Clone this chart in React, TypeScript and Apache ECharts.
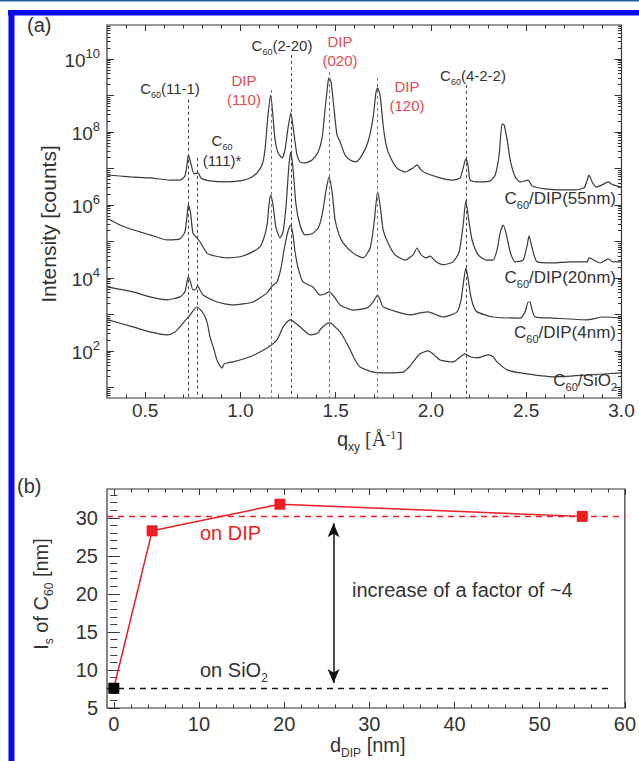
import React, { useEffect, useRef } from 'react';
import * as echarts from 'echarts';

// ---------------- panel (a) data ----------------
const Q_MIN = 0.3;
const Q_MAX = 3.0;
const LOG_MIN = 0.71;
const LOG_MAX = 10.93;
const qTickLabels = [0.5, 1.0, 1.5, 2.0, 2.5, 3.0];
const logTickLabels = [2, 4, 6, 8, 10];
const logMajorTicks = [1, 2, 3, 4, 5, 6, 7, 8, 9, 10];

// [q_xy (1/Å), log10(intensity / counts)]
const curve55nm: [number, number][] = [
  [0.305, 6.82], [0.421, 6.77], [0.526, 6.74], [0.631, 6.68], [0.683, 6.68], [0.709, 6.79], [0.722, 7.18],
  [0.727, 7.37], [0.738, 7.18], [0.757, 6.85], [0.778, 6.88], [0.793, 6.74], [0.841, 6.66], [0.919, 6.63],
  [0.998, 6.66], [1.051, 6.74], [1.087, 6.88], [1.114, 7.1], [1.129, 7.51], [1.145, 8.47], [1.159, 9.01],
  [1.169, 8.55], [1.182, 7.78], [1.198, 7.42], [1.219, 7.29], [1.234, 7.51], [1.25, 8.11], [1.265, 8.52],
  [1.282, 7.92], [1.297, 7.37], [1.313, 7.18], [1.339, 7.15], [1.376, 7.23], [1.408, 7.45], [1.429, 7.84],
  [1.444, 8.6], [1.46, 9.37], [1.465, 9.48], [1.476, 9.37], [1.492, 8.6], [1.507, 7.92], [1.523, 7.73],
  [1.549, 7.37], [1.576, 7.23], [1.607, 7.18], [1.639, 7.37], [1.67, 7.73], [1.696, 8.38], [1.712, 9.1],
  [1.72, 9.21], [1.733, 9.01], [1.749, 8.19], [1.765, 7.64], [1.786, 7.32], [1.822, 7.01], [1.864, 6.9],
  [1.906, 7.01], [1.927, 7.1], [1.948, 6.96], [1.969, 6.88], [2.048, 6.74], [2.116, 6.68], [2.153, 6.74],
  [2.169, 7.01], [2.183, 7.26], [2.195, 7.07], [2.206, 6.68], [2.258, 6.63], [2.311, 6.66], [2.337, 6.82],
  [2.358, 7.37], [2.373, 8.22], [2.384, 8.19], [2.4, 7.78], [2.416, 7.23], [2.442, 6.77], [2.468, 6.63],
  [2.51, 6.68], [2.531, 6.52], [2.599, 6.44], [2.678, 6.41], [2.757, 6.41], [2.804, 6.47], [2.82, 6.68],
  [2.83, 6.82], [2.846, 6.63], [2.867, 6.49], [2.898, 6.55], [2.93, 6.63], [2.956, 6.55], [2.998, 6.49],
];

const curve20nm: [number, number][] = [
  [0.305, 5.62], [0.368, 5.45], [0.436, 5.32], [0.526, 5.18], [0.615, 5.04], [0.683, 5.07], [0.709, 5.26],
  [0.722, 5.81], [0.727, 6.0], [0.738, 5.81], [0.751, 5.23], [0.772, 5.1], [0.788, 4.99], [0.825, 4.68],
  [0.867, 4.6], [0.93, 4.55], [0.998, 4.58], [1.051, 4.68], [1.103, 4.85], [1.124, 5.1], [1.14, 5.45],
  [1.15, 6.0], [1.159, 6.27], [1.171, 6.0], [1.187, 5.37], [1.208, 5.1], [1.224, 5.26], [1.24, 6.0],
  [1.255, 7.1], [1.265, 7.45], [1.276, 7.01], [1.292, 6.0], [1.313, 5.45], [1.339, 5.18], [1.376, 5.21],
  [1.408, 5.37], [1.429, 5.73], [1.45, 6.41], [1.465, 6.77], [1.481, 6.36], [1.497, 5.59], [1.518, 5.18],
  [1.539, 4.96], [1.591, 4.68], [1.644, 4.55], [1.681, 4.82], [1.702, 5.53], [1.72, 6.36], [1.733, 6.0],
  [1.749, 5.32], [1.775, 4.96], [1.812, 4.63], [1.864, 4.49], [1.906, 4.63], [1.927, 4.82], [1.948, 4.63],
  [1.975, 4.55], [1.996, 4.6], [2.027, 4.44], [2.064, 4.36], [2.116, 4.44], [2.148, 4.71], [2.169, 5.45],
  [2.183, 6.11], [2.2, 5.53], [2.216, 5.04], [2.248, 4.63], [2.29, 4.49], [2.326, 4.49], [2.347, 4.77],
  [2.363, 5.23], [2.379, 5.45], [2.394, 5.23], [2.416, 4.71], [2.442, 4.44], [2.484, 4.49], [2.505, 4.9],
  [2.515, 5.15], [2.531, 4.82], [2.557, 4.44], [2.641, 4.41], [2.731, 4.44], [2.82, 4.44], [2.83, 4.55],
  [2.888, 4.41], [2.93, 4.52], [2.956, 4.44], [2.998, 4.44],
];

const curve4nm: [number, number][] = [
  [0.305, 3.75], [0.436, 3.62], [0.526, 3.48], [0.615, 3.4], [0.683, 3.48], [0.709, 3.62], [0.722, 3.95],
  [0.727, 4.03], [0.738, 3.89], [0.751, 3.67], [0.767, 3.7], [0.775, 3.78], [0.788, 3.67], [0.804, 3.53],
  [0.877, 3.34], [0.961, 3.26], [1.066, 3.34], [1.14, 3.59], [1.166, 3.78], [1.192, 3.89], [1.213, 4.27],
  [1.229, 4.77], [1.245, 5.18], [1.255, 5.37], [1.265, 5.45], [1.276, 5.18], [1.287, 4.71], [1.303, 4.27],
  [1.329, 3.89], [1.381, 3.75], [1.418, 3.53], [1.444, 3.56], [1.465, 3.62], [1.497, 3.45], [1.523, 3.26],
  [1.591, 3.12], [1.665, 3.18], [1.696, 3.34], [1.72, 3.53], [1.733, 3.4], [1.749, 3.21], [1.822, 3.07],
  [1.891, 2.99], [1.943, 3.04], [1.985, 3.07], [2.064, 2.93], [2.137, 3.07], [2.158, 3.4], [2.169, 3.81],
  [2.183, 4.27], [2.192, 4.08], [2.206, 3.59], [2.221, 3.26], [2.242, 3.07], [2.326, 2.93], [2.468, 2.9],
  [2.494, 3.07], [2.51, 3.34], [2.52, 3.34], [2.531, 3.12], [2.547, 2.93], [2.641, 2.9], [2.82, 2.85],
  [2.904, 2.93], [2.998, 2.9],
];

const curveSiO2: [number, number][] = [
  [0.305, 2.85], [0.436, 2.66], [0.526, 2.52], [0.615, 2.44], [0.657, 2.52], [0.683, 2.66], [0.736, 2.99],
  [0.772, 3.21], [0.804, 3.04], [0.825, 2.79], [0.841, 2.38], [0.862, 2.03], [0.877, 1.75], [0.893, 1.59],
  [0.904, 1.53], [0.914, 1.64], [0.93, 1.67], [0.961, 1.7], [1.051, 1.84], [1.14, 2.08], [1.192, 2.3],
  [1.224, 2.66], [1.25, 2.82], [1.265, 2.85], [1.287, 2.77], [1.313, 2.66], [1.366, 2.44], [1.408, 2.49],
  [1.418, 2.58], [1.45, 2.74], [1.471, 2.77], [1.497, 2.66], [1.523, 2.52], [1.549, 2.3], [1.576, 2.03],
  [1.602, 1.75], [1.628, 1.56], [1.696, 1.42], [1.77, 1.4], [1.854, 1.42], [1.891, 1.59], [1.906, 1.7],
  [1.943, 1.92], [1.985, 2.0], [2.017, 1.89], [2.048, 1.75], [2.116, 1.7], [2.179, 1.92], [2.206, 1.84],
  [2.242, 1.81], [2.3, 1.89], [2.326, 1.84], [2.347, 1.7], [2.4, 1.48], [2.468, 1.4], [2.641, 1.29],
  [2.82, 1.34], [2.998, 1.4],
];

// reflection markers: position q, top of dashed line (log10), family
const reflectionQ = [0.725, 0.772, 1.161, 1.265, 1.465, 1.72, 2.185];
const reflectionTop = [8.88, 7.29, 9.15, 10.11, 9.64, 9.48, 9.29];
const reflectionIsDip = [false, false, true, false, true, true, false];

// ---------------- panel (b) data ----------------
const D_MIN = -0.8;
const D_MAX = 60;
const LS_MIN = 5;
const LS_MAX = 33.8;
const dTickLabels = [0, 10, 20, 30, 40, 50, 60];
const lsTickLabels = [5, 10, 15, 20, 25, 30];
const dDip = [0, 4.5, 19.5, 55];
const lsC60 = [7.6, 28.3, 31.8, 30.2];
const onDipLevel = 30.2;
const onSiO2Level = 7.6;
const sio2LineEnd = 58.1;
const arrowD = 25.8;
const arrowTop = 29.3;
const arrowBottom = 8.3;

// ---------------- styling ----------------
const FONT = '"Liberation Sans", Arial, Helvetica, sans-serif';
const SERIF = '"Liberation Serif", "Times New Roman", serif';
const INK = '#333333';
const CURVE = '#3a3a3a';
const RED_A = '#e5484d';
const RED_B = '#ee1d23';
const BLUE = '#0a0aee';

const logMinorTicks: number[] = [];
for (let n = 0; n <= 10; n++) {
  for (let k = 2; k <= 9; k++) {
    const v = n + Math.log10(k);
    if (v > LOG_MIN && v < LOG_MAX) logMinorTicks.push(v);
  }
}
const qMinorTicks: number[] = [];
for (let i = 4; i < 30; i++) if (i % 5 !== 0) qMinorTicks.push(i / 10);
const dMinorTicks: number[] = [];
for (let i = 2; i < 60; i += 2) if (i % 10 !== 0) dMinorTicks.push(i);
const lsMinorTicks: number[] = [];
for (let i = 6; i < 34; i++) if (i % 5 !== 0) lsMinorTicks.push(i);

function rich(size: number, color: string, family = FONT) {
  const lh = Math.round(size * 1.22);
  return {
    n: { fontSize: size, fontFamily: family, fill: color, color, lineHeight: lh, verticalAlign: 'top' },
    r: { fontSize: size, fontFamily: SERIF, fill: color, color, lineHeight: lh, verticalAlign: 'top' },
    s: { fontSize: Math.round(size * 0.62), fontFamily: family, fill: color, color, lineHeight: lh, verticalAlign: 'bottom' },
    p: { fontSize: Math.round(size * 0.62), fontFamily: SERIF, fill: color, color, lineHeight: 8, verticalAlign: 'top' },
  };
}

function txt(x: number, y: number, text: string, o: any = {}) {
  const size = o.size ?? 15;
  const color = o.color ?? INK;
  return {
    type: 'text',
    x,
    y,
    rotation: o.rotation ?? 0,
    silent: true,
    z: 20,
    style: {
      text,
      fill: color,
      fontSize: size,
      fontFamily: FONT,
      align: o.align ?? 'center',
      verticalAlign: o.va ?? 'middle',
      rich: rich(size, color),
    },
  };
}

function tickAxis(kind: 'x' | 'y', gridIndex: number, position: string, min: number, max: number, ticks: number[], len: number, label?: any) {
  return {
    type: 'value',
    gridIndex,
    position,
    min,
    max,
    splitLine: { show: false },
    axisLine: { show: false },
    axisPointer: { show: false },
    axisTick: { show: true, inside: true, length: len, customValues: ticks, lineStyle: { color: INK, width: 1 } },
    axisLabel: label ?? { show: false },
  };
}

export default function App() {
  const ref = useRef<HTMLDivElement>(null);
  useEffect(() => {
    if (!ref.current) return;
    const chart = echarts.init(ref.current, undefined, { renderer: 'svg' });

    const tickLabelA = { fontSize: 19, fontFamily: FONT, color: INK };
    const tickLabelB = { fontSize: 20, fontFamily: FONT, color: INK };

    const xAxis = [
      tickAxis('x', 0, 'bottom', Q_MIN, Q_MAX, qTickLabels, 6, {
        show: true, customValues: qTickLabels, margin: 3, formatter: (v: number) => v.toFixed(1), ...tickLabelA,
      }),
      tickAxis('x', 0, 'bottom', Q_MIN, Q_MAX, qMinorTicks, 3.5),
      tickAxis('x', 0, 'top', Q_MIN, Q_MAX, qTickLabels, 6),
      tickAxis('x', 0, 'top', Q_MIN, Q_MAX, qMinorTicks, 3.5),
      tickAxis('x', 1, 'bottom', D_MIN, D_MAX, dTickLabels, 6, {
        show: true, customValues: dTickLabels, margin: 6, ...tickLabelB,
      }),
      tickAxis('x', 1, 'bottom', D_MIN, D_MAX, dMinorTicks, 3.5),
      tickAxis('x', 1, 'top', D_MIN, D_MAX, dTickLabels, 6),
      tickAxis('x', 1, 'top', D_MIN, D_MAX, dMinorTicks, 3.5),
    ];
    const yAxis = [
      tickAxis('y', 0, 'left', LOG_MIN, LOG_MAX, logMajorTicks, 7, {
        show: true,
        customValues: logTickLabels,
        margin: 7,
        formatter: (v: number) => `{b|10}{e|${Math.round(v)}}`,
        rich: {
          b: { fontSize: 19, fontFamily: FONT, color: INK, lineHeight: 23, verticalAlign: 'bottom' },
          e: { fontSize: 13, fontFamily: FONT, color: INK, lineHeight: 13, verticalAlign: 'top' },
        },
      }),
      tickAxis('y', 0, 'left', LOG_MIN, LOG_MAX, logMinorTicks, 3.5),
      tickAxis('y', 0, 'right', LOG_MIN, LOG_MAX, logMajorTicks, 7),
      tickAxis('y', 0, 'right', LOG_MIN, LOG_MAX, logMinorTicks, 3.5),
      tickAxis('y', 1, 'left', LS_MIN, LS_MAX, lsTickLabels, 6, {
        show: true, customValues: lsTickLabels, margin: 9, ...tickLabelB,
      }),
      tickAxis('y', 1, 'left', LS_MIN, LS_MAX, lsMinorTicks, 3.5),
      tickAxis('y', 1, 'right', LS_MIN, LS_MAX, lsTickLabels, 6),
      tickAxis('y', 1, 'right', LS_MIN, LS_MAX, lsMinorTicks, 3.5),
    ];

    const curve = (name: string, data: [number, number][]) => ({
      type: 'line',
      name,
      xAxisIndex: 0,
      yAxisIndex: 0,
      data,
      symbol: 'none',
      showSymbol: false,
      silent: true,
      smooth: 0.2,
      lineStyle: { color: CURVE, width: 1.2 },
      z: 3,
    });

    const reflectionLines = reflectionQ.map((q, i) => [
      {
        coord: [q, reflectionTop[i]],
        lineStyle: { color: reflectionIsDip[i] ? RED_A : '#444444', type: [3, 3], width: 1 },
      },
      { coord: [q, LOG_MIN] },
    ]);

    const bPoints = dDip.map((d, i) =>
      i === 0
        ? { value: [d, lsC60[i]], itemStyle: { color: '#000000' }, z: 10 }
        : { value: [d, lsC60[i]] }
    );

    const option: any = {
      animation: false,
      grid: [
        { left: 107, top: 25, width: 514.5, height: 373, show: true, borderColor: INK, borderWidth: 1.2, backgroundColor: 'transparent' },
        { left: 107, top: 489, width: 528, height: 219, show: true, borderColor: INK, borderWidth: 1.2, backgroundColor: 'transparent' },
      ],
      xAxis,
      yAxis,
      series: [
        {
          ...curve('C60/DIP(55nm)', curve55nm),
          markLine: {
            silent: true,
            symbol: ['none', 'none'],
            label: { show: false },
            animation: false,
            data: reflectionLines,
          },
        },
        curve('C60/DIP(20nm)', curve20nm),
        curve('C60/DIP(4nm)', curve4nm),
        curve('C60/SiO2', curveSiO2),
        {
          type: 'line',
          name: 'ls',
          xAxisIndex: 4,
          yAxisIndex: 4,
          data: bPoints,
          symbol: 'rect',
          symbolSize: 11,
          itemStyle: { color: RED_B },
          lineStyle: { color: RED_B, width: 1.5 },
          silent: true,
          z: 5,
          markLine: {
            silent: true,
            symbol: ['none', 'none'],
            label: { show: false },
            animation: false,
            data: [
              { yAxis: onDipLevel, lineStyle: { color: RED_B, type: [6, 5], width: 1.3 } },
              [
                { coord: [D_MIN, onSiO2Level], lineStyle: { color: '#111111', type: [6, 5], width: 1.3 } },
                { coord: [sio2LineEnd, onSiO2Level] },
              ],
            ],
          },
        },
        {
          type: 'line',
          name: 'arrow',
          xAxisIndex: 4,
          yAxisIndex: 4,
          data: [],
          silent: true,
          markLine: {
            silent: true,
            symbol: ['arrow', 'arrow'],
            symbolSize: [9, 14],
            label: { show: false },
            animation: false,
            lineStyle: { color: '#111111', type: 'solid', width: 1.5 },
            data: [[{ coord: [arrowD, arrowTop] }, { coord: [arrowD, arrowBottom] }]],
          },
        },
      ],
      graphic: [
        { type: 'rect', silent: true, shape: { x: 0, y: 0, width: 639, height: 1.5 }, style: { fill: '#2463a6' } },
        { type: 'rect', silent: true, shape: { x: 8, y: 10, width: 631, height: 5.5 }, style: { fill: BLUE } },
        { type: 'rect', silent: true, shape: { x: 8.5, y: 10, width: 6, height: 751 }, style: { fill: BLUE } },
        txt(27, 27, '{n|(a)}', { size: 20, align: 'left' }),
        txt(170, 90, '{n|C}{s|60}{n|(11-1)}'),
        txt(222, 142, '{n|C}{s|60}'),
        txt(222, 162, '{n|(111)*}'),
        txt(244, 82, '{n|DIP}', { color: RED_A }),
        txt(244, 101, '{n|(110)}', { color: RED_A }),
        txt(282, 47, '{n|C}{s|60}{n|(2-20)}'),
        txt(340, 43, '{n|DIP}', { color: RED_A }),
        txt(340, 62, '{n|(020)}', { color: RED_A }),
        txt(407, 88, '{n|DIP}', { color: RED_A }),
        txt(407, 107, '{n|(120)}', { color: RED_A }),
        txt(473, 77, '{n|C}{s|60}{n|(4-2-2)}'),
        txt(616, 200, '{n|C}{s|60}{n|/DIP(55nm)}', { size: 17, align: 'right' }),
        txt(616, 279, '{n|C}{s|60}{n|/DIP(20nm)}', { size: 17, align: 'right' }),
        txt(616, 334, '{n|C}{s|60}{n|/DIP(4nm)}', { size: 17, align: 'right' }),
        txt(617, 382, '{n|C}{s|60}{n|/SiO}{s|2}', { size: 17, align: 'right' }),
        txt(51, 224, '{n|Intensity [counts]}', { size: 21, rotation: Math.PI / 2 }),
        txt(337, 441, '{n|q}{s|xy}{r| [Å}{p|-1}{r|]}', { size: 20, align: 'left' }),
        txt(17, 488, '{n|(b)}', { size: 20, align: 'left' }),
        txt(200, 535, '{n|on DIP}', { size: 20, align: 'left', color: RED_B }),
        txt(200, 672, '{n|on SiO}{s|2}', { size: 20, align: 'left' }),
        txt(352, 592, '{n|increase of a factor of ~4}', { size: 20, align: 'left' }),
        txt(330, 747, '{n|d}{s|DIP}{n| [nm]}', { size: 20, align: 'left' }),
        txt(43, 594, '{n|I}{s|s}{n| of C}{s|60}{n| [nm]}', { size: 20, rotation: Math.PI / 2 }),
      ],
    };

    chart.setOption(option);
    return () => chart.dispose();
  }, []);

  return (
    <div
      ref={ref}
      style={{ position: 'absolute', left: 0, top: 0, width: 639, height: 761, background: '#ffffff', overflow: 'hidden' }}
    />
  );
}
